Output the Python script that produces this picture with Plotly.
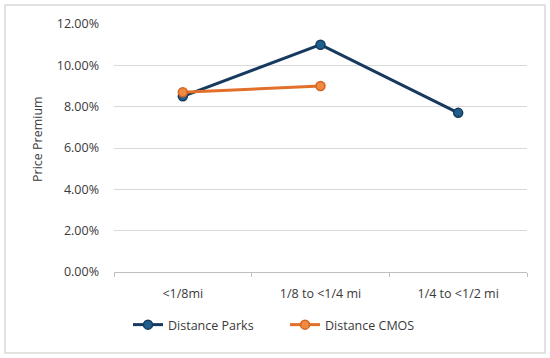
import plotly.graph_objects as go

categories = ["<1/8mi", "1/8 to <1/4 mi", "1/4 to <1/2 mi"]
parks = [0.085, 0.110, 0.077]
cmos = [0.087, 0.090, None]

W, H = 550, 358
ml, mr, mt, mb = 114, 23, 24, 86
pw, ph = W - ml - mr, H - mt - mb

def px(x):
    return (x - ml) / pw

def py(y):
    return (H - mb - y) / ph

FONT = "Open Sans, Lato, sans-serif"
TXT = "#3A3A3A"

fig = go.Figure()
fig.add_trace(go.Scatter(
    x=categories, y=parks, name="Distance Parks", mode="lines+markers",
    line=dict(color="#163A5F", width=3),
    marker=dict(size=9, color="#1F5F8B", line=dict(color="#163A5F", width=1.5)),
))
fig.add_trace(go.Scatter(
    x=categories, y=cmos, name="Distance CMOS", mode="lines+markers",
    line=dict(color="#E2702A", width=3),
    marker=dict(size=9, color="#F08A40", line=dict(color="#D2641F", width=1.5)),
))

fig.update_layout(
    width=W, height=H,
    margin=dict(l=ml, r=mr, t=mt, b=mb, autoexpand=False),
    paper_bgcolor="white", plot_bgcolor="white",
    font=dict(family=FONT, size=12.5, color=TXT),
    showlegend=True,
    legend=dict(orientation="h", x=px(285), xanchor="center", y=py(325), yanchor="middle",
                font=dict(size=12.5, color=TXT), tracegroupgap=0,
                entrywidth=112, entrywidthmode="pixels"),
    xaxis=dict(
        type="category", showgrid=False, showline=True, linecolor="#BFBFBF", linewidth=1,
        ticks="outside", ticklen=4, tickcolor="#BFBFBF", tickson="boundaries",
        ticklabelstandoff=10, range=[-0.5, 2.5], fixedrange=True,
        tickfont=dict(size=12.5, color=TXT),
    ),
    yaxis=dict(
        range=[0, 0.12], dtick=0.02, tickformat=".2%", showgrid=True,
        gridcolor="#D9D9D9", gridwidth=1, zeroline=False, showline=False,
        ticklabelstandoff=14, tickfont=dict(size=12.5, color=TXT), fixedrange=True,
    ),
    annotations=[dict(text="Price Premium", textangle=-90, xref="paper", yref="paper",
                      x=px(37), y=py(139), xanchor="center", yanchor="middle",
                      showarrow=False, font=dict(size=12.5, color=TXT))],
    shapes=[dict(type="rect", xref="paper", yref="paper",
                 x0=px(5), x1=px(545), y0=py(353), y1=py(5),
                 line=dict(color="#D9D9D9", width=1.5), fillcolor="rgba(0,0,0,0)", layer="below")],
)

fig.write_html("out.html", config={"displayModeBar": False},
               post_script="document.body.style.margin='0';document.body.style.padding='0';")
